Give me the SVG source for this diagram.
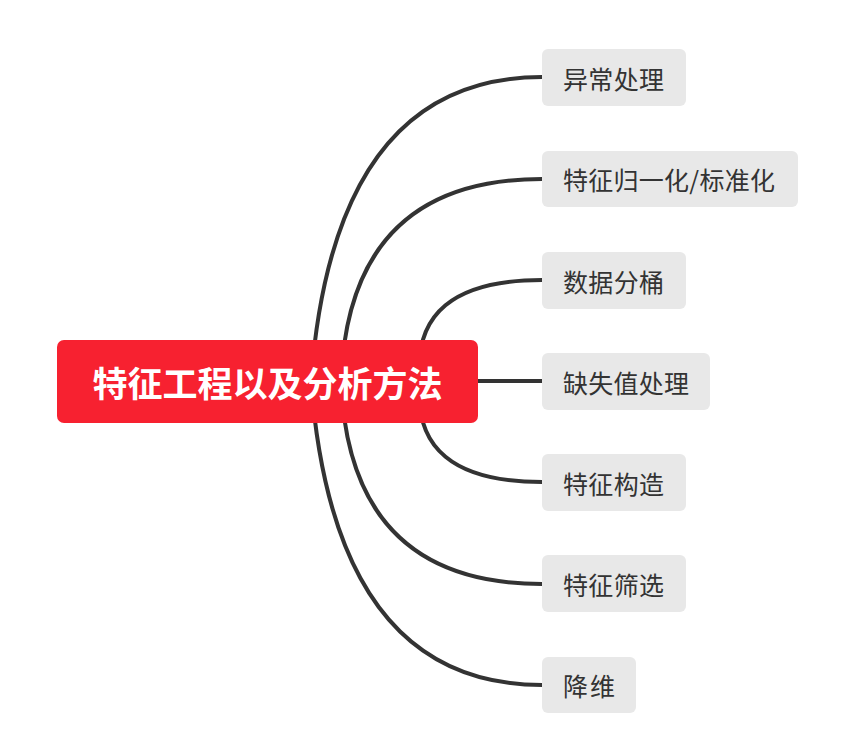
<svg xmlns="http://www.w3.org/2000/svg" width="866" height="745" viewBox="0 0 866 745">
<style>
.conn{fill:none;stroke:#333333;stroke-width:4;stroke-linecap:butt}
.leaf rect{fill:#E8E8E8}
.leaf text{font-family:"Noto Sans CJK SC","Liberation Sans",sans-serif;font-size:25px;fill:#333333;dominant-baseline:central}
.root rect{fill:#F72130}
.root text{font-family:"Noto Sans CJK SC","Liberation Sans",sans-serif;font-size:35px;font-weight:bold;fill:#FFFFFF;dominant-baseline:central;text-anchor:middle}
</style>
<rect width="866" height="745" fill="#FFFFFF"/>
<g id="connectors">
<path class="conn" d="M311 381 Q334 77 542 77"/>
<path class="conn" d="M341 381 Q349 179 542 179"/>
<path class="conn" d="M420 381 Q410 280 542 280"/>
<path class="conn" d="M470 381 L542 381"/>
<path class="conn" d="M420 381 Q410 482 542 482"/>
<path class="conn" d="M341 381 Q349 584 542 584"/>
<path class="conn" d="M311 381 Q334 685 542 685"/>
</g>
<g id="root" class="root">
<rect x="57" y="340" width="421" height="83" rx="7"/>
<text x="267.5" y="381" textLength="350" lengthAdjust="spacing">特征工程以及分析方法</text>
</g>
<g id="n1" class="leaf"><rect x="542" y="49" width="144" height="57" rx="6"/><text x="563" y="77.5" textLength="101" lengthAdjust="spacing">异常处理</text></g>
<g id="n2" class="leaf"><rect x="542" y="151" width="256" height="56" rx="6"/><text x="563" y="179" textLength="212" lengthAdjust="spacing">特征归一化/标准化</text></g>
<g id="n3" class="leaf"><rect x="542" y="252" width="144" height="57" rx="6"/><text x="563" y="280.5" textLength="101" lengthAdjust="spacing">数据分桶</text></g>
<g id="n4" class="leaf"><rect x="542" y="353" width="168" height="57" rx="6"/><text x="563" y="381.5" textLength="126" lengthAdjust="spacing">缺失值处理</text></g>
<g id="n5" class="leaf"><rect x="542" y="454" width="144" height="57" rx="6"/><text x="563" y="482.5" textLength="101" lengthAdjust="spacing">特征构造</text></g>
<g id="n6" class="leaf"><rect x="542" y="555" width="144" height="57" rx="6"/><text x="563" y="583.5" textLength="101" lengthAdjust="spacing">特征筛选</text></g>
<g id="n7" class="leaf"><rect x="542" y="657" width="94" height="56" rx="6"/><text x="563" y="685" textLength="52" lengthAdjust="spacing">降维</text></g>
</svg>
